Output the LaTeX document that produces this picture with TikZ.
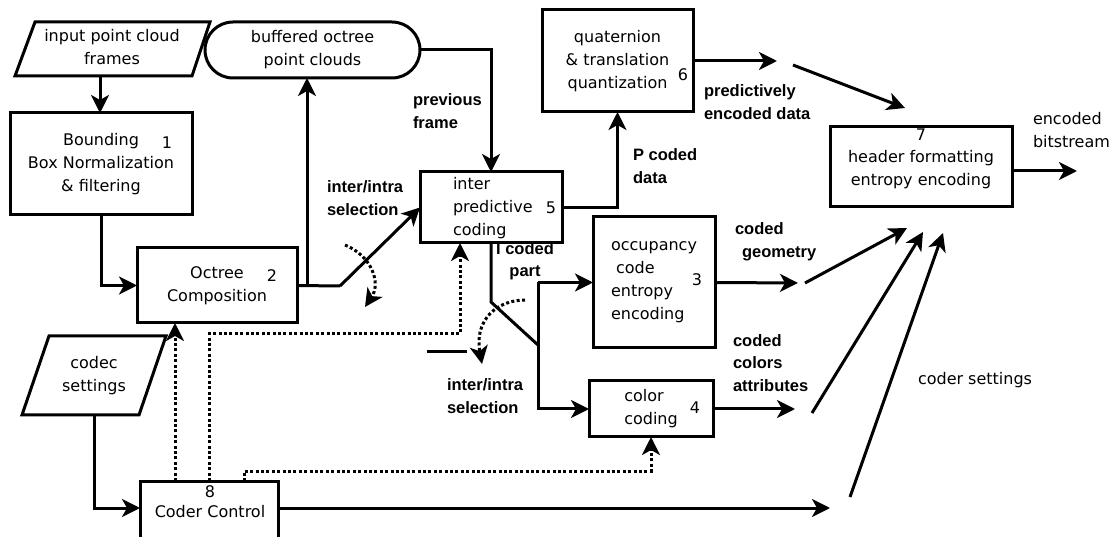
\documentclass[tikz,border=0pt]{standalone}
\usepackage{fontspec}
\setmainfont{DejaVu Sans}
\newfontfamily\lblfont{Liberation Sans}
\usetikzlibrary{arrows.meta}
\begin{document}
\begin{tikzpicture}[x=1pt,y=-1pt,
  every node/.style={inner sep=0pt, outer sep=0pt, font=\fontsize{16}{23}\selectfont},
  box/.style={draw, line width=3pt, rectangle},
  tip/.style={-{Stealth[length=18pt,width=18pt,inset=5pt]}},
  conn/.style={line width=3pt, tip},
  wire/.style={line width=3pt},
  dotline/.style={line width=3pt, dash pattern=on 3pt off 2.4pt},
  dotconn/.style={dotline, tip},
  lbl/.style={font=\fontsize{16.5}{22.5}\selectfont\lblfont\bfseries, align=left, anchor=west},
  num/.style={font=\fontsize{16}{19}\selectfont},
]
\clip (0,0) rectangle (1112,537);
\fill[white] (0,0) rectangle (1112,537);

% input frames
\draw[line width=3pt] (35,22) -- (210,22) -- (192,76) -- (15,76) -- cycle;
\node[align=center] (in) at (112,47) {input point cloud\\frames};
\coordinate (inB) at (100,76);

\node[box, minimum width=182pt, minimum height=102pt, align=center] (b1) at (101,164) {Bounding\\Box Normalization\\\& filtering};
\node[num] (n1) at (167,143) {1};

\node[box, rounded corners=28pt, minimum width=215pt, minimum height=56pt, align=center] (buf) at (312.5,50) {buffered octree\\point clouds};

\node[box, minimum width=160pt, minimum height=75pt, align=center] (b2) at (217,285.5) {Octree\\Composition};
\node[num] (n2) at (272,276) {2};

\node[box, minimum width=142pt, minimum height=71pt] (b5) at (491,207.5) {};
\node[align=left, anchor=west] (t5) at (453,208) {inter\\predictive\\coding};
\node[num] (n5) at (551,208) {5};

\node[box, minimum width=151pt, minimum height=102pt, align=center] (b6) at (617.5,61) {quaternion\\\& translation\\quantization};
\node[num] (n6) at (683,75) {6};

\node[box, minimum width=122pt, minimum height=131pt, align=left] (b3) at (654,282.5) {occupancy\\\hspace*{5pt}code\\entropy\\encoding};
\node[num] (n3) at (697,280) {3};

\node[box, minimum width=124pt, minimum height=56pt, align=left] (b4) at (651,409) {color\\coding};
\node[num] (n4) at (695,408) {4};

\node[box, minimum width=182pt, minimum height=80pt] (b7) at (921,167) {};
\node[align=center] (t7) at (921,159) {7\\[-1pt]header formatting\\entropy encoding};

\node[box, minimum width=138pt, minimum height=64pt] (b8) at (209,513) {};
\node[align=center] (t8) at (210,502) {8\\[-3pt]Coder Control};

% codec settings
\draw[line width=3pt] (49,336) -- (166,336) -- (139,415) -- (22,415) -- cycle;
\node[align=center] (cs) at (94,376) {codec\\settings};
\coordinate (csB) at (94,415);

% connectors
\draw[conn] (inB) -- (inB |- b1.north);
\draw[conn] (b1.south) |- (b2.west);
\coordinate (sw1) at (340,286);
\coordinate (j1) at (307,286);
\draw[wire] (b2.east) -- (sw1);
\draw[conn] (j1) -- (j1 |- buf.south);
\draw[conn] (sw1) -- (b5.west);
\coordinate (a1s) at (345,245);
\coordinate (a1e) at (365,307);
\draw[dotconn] (a1s) .. controls (372,256) and (381,283) .. (a1e);

\draw[conn] (buf.east) -| (b5.north);
\draw[conn] (b5.east) -| (b6.south);
\coordinate (pe1) at (777,61);
\draw[conn] (b6.east) -- (pe1);
\coordinate (pe2) at (793,65);
\coordinate (pe3) at (905,108);
\draw[conn] (pe2) -- (pe3);
\coordinate (ob) at (1077,171);
\draw[conn] ([yshift=-4pt]b7.east) -- (ob);

% I coded part switch
\coordinate (sw2) at (491,302);
\coordinate (sw2e) at (538,345);
\coordinate (sp1) at (538,282.5);
\draw[wire] (b5.south) -- (sw2) -- (sw2e);
\draw[conn] (sp1) -- (b3.west);
\draw[conn] (sp1) |- (b4.west);
\coordinate (a2s) at (525,300);
\coordinate (a2e) at (482,364);
\draw[dotconn] (a2s) .. controls (497,300) and (474,320) .. (a2e);
\coordinate (st1) at (427,352);
\coordinate (st2) at (467,352);
\draw[wire] (st1) -- (st2);

% outputs to header
\coordinate (g1) at (798,283);
\draw[conn] (b3.east) -- (g1);
\coordinate (g2) at (805,283);
\coordinate (g3) at (907,228);
\draw[conn] (g2) -- (g3);
\coordinate (c1) at (795,409);
\draw[conn] (b4.east) -- (c1);
\coordinate (c2) at (812,413);
\coordinate (c3) at (923,232);
\draw[conn] (c2) -- (c3);
\coordinate (k0) at (278,508);
\coordinate (k1) at (830,508);
\draw[conn] (b8.east |- k0) -- (k1);
\coordinate (k2) at (850,497);
\coordinate (k3) at (943,233);
\draw[conn] (k2) -- (k3);

\draw[conn] (csB) |- (b8.west |- k0);

% dotted control lines
\coordinate (d1) at (175,0);
\draw[dotconn] (b8.north -| d1) -- (b2.south -| d1);
\coordinate (d2) at (209,334);
\coordinate (d2b) at (460,334);
\draw[dotconn] (b8.north -| d2) -- (d2) -- (d2b) -- (b5.south -| d2b);
\coordinate (d3) at (244,471);
\coordinate (d3b) at (651,471);
\draw[dotconn] (b8.north -| d3) -- (d3) -- (d3b) -- (b4.south);

% labels
\node[lbl] (l1) at (327,198) {inter/intra\\selection};
\node[lbl] (l2) at (413,111) {previous\\frame};
\node[lbl] (l3) at (633,166) {P coded\\data};
\node[lbl] (l4) at (704,102) {predictively\\encoded data};
\node[anchor=west, align=left] (l5) at (1033,130) {encoded\\bitstream};
\node[lbl, align=center, anchor=center] (l6) at (525,261) {I coded\\part};
\node[lbl] (l7) at (735,242) {coded\\\hspace*{7pt}geometry};
\node[lbl] (l8) at (733,363) {coded\\colors\\attributes};
\node[lbl] (l9) at (447,396) {inter/intra\\selection};
\node[anchor=west] (l10) at (918,380) {coder settings};
\end{tikzpicture}
\end{document}
